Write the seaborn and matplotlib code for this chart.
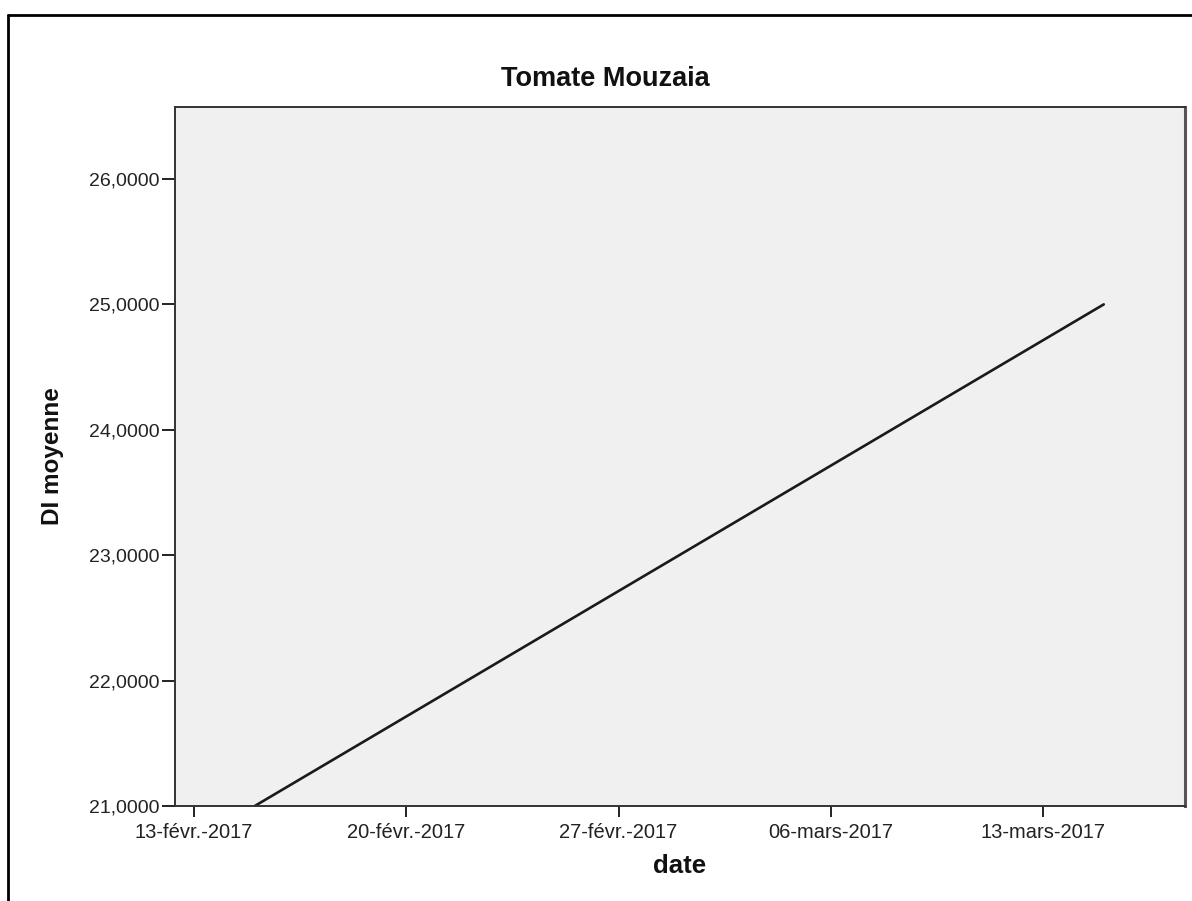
import pandas as pd
import matplotlib
matplotlib.use("Agg")
import matplotlib.pyplot as plt
from matplotlib.lines import Line2D
from matplotlib.ticker import FuncFormatter
import seaborn as sns

# Data
dates = ["2017-02-15", "2017-03-15"]
di_moyenne = [21.0, 25.0]

tick_dates = ["2017-02-13", "2017-02-20", "2017-02-27", "2017-03-06", "2017-03-13"]
tick_labels = ["13-févr.-2017", "20-févr.-2017", "27-févr.-2017", "06-mars-2017", "13-mars-2017"]
y_ticks = [21, 22, 23, 24, 25, 26]

df = pd.DataFrame({"date": pd.to_datetime(dates), "DI moyenne": di_moyenne})

sns.set_style("white")
plt.rcParams["font.family"] = ["Liberation Sans", "DejaVu Sans"]

fig = plt.figure(figsize=(11.92, 9.01), dpi=100)
ax = fig.add_axes([175 / 1192, 1 - 806 / 901, 1010 / 1192, 699 / 901])
ax.set_facecolor("#f0f0f0")

sns.lineplot(data=df, x="date", y="DI moyenne", ax=ax, color="#1a1a1a", linewidth=1.9)

# axis ranges
x0 = pd.Timestamp("2017-02-13") - pd.Timedelta(days=0.63)
x1 = pd.Timestamp("2017-02-13") + pd.Timedelta(days=32.68)
ax.set_xlim(x0, x1)
ax.set_ylim(21.0, 26.574)

ax.set_xticks(pd.to_datetime(tick_dates))
ax.set_xticklabels(tick_labels, fontsize=14.5, color="#222222")
ax.set_yticks(y_ticks)
ax.yaxis.set_major_formatter(FuncFormatter(lambda v, p: f"{v:.4f}".replace(".", ",")))
ax.tick_params(axis="y", labelsize=14, colors="#222222", length=9.5, width=1.4,
               direction="out", pad=1.5, left=True)
ax.tick_params(axis="x", length=8, width=1.4, direction="out", pad=4,
               colors="#222222", bottom=True)

for s in ax.spines.values():
    s.set_color("#333333")
    s.set_linewidth(1.4)
ax.spines["right"].set_color("#555555")
ax.spines["right"].set_linewidth(2.2)

ax.set_xlabel("")
ax.set_ylabel("")
fig.text(605 / 1192, 1 - 79 / 901, "Tomate Mouzaia", ha="center", va="center",
         fontsize=19.5, fontweight="bold", color="#111111")
fig.text(680 / 1192, 1 - 866 / 901, "date", ha="center", va="center",
         fontsize=18.5, fontweight="bold", color="#111111")
fig.text(53 / 1192, 1 - 456 / 901, "DI moyenne", ha="center", va="center",
         rotation=90, fontsize=17.5, fontweight="bold", color="#111111")

# outer frame (left and top edges visible)
fig.add_artist(Line2D([8 / 1192, 8 / 1192], [0, 1 - 15 / 901], transform=fig.transFigure,
                      color="black", linewidth=2))
fig.add_artist(Line2D([8 / 1192, 1], [1 - 15 / 901, 1 - 15 / 901], transform=fig.transFigure,
                      color="black", linewidth=2))

fig.savefig("out.png", dpi=100)
